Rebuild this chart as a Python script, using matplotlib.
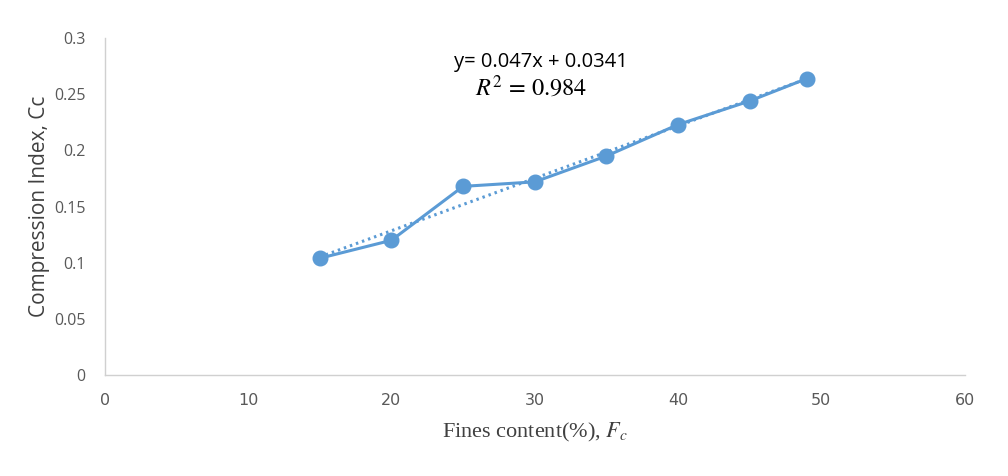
import numpy as np
import matplotlib.pyplot as plt

## data
fines = [15, 20, 25, 30, 35, 40, 45, 49]
cc = [0.104, 0.120, 0.168, 0.172, 0.195, 0.223, 0.244, 0.264]
xticks = [0, 10, 20, 30, 40, 50, 60]
yticks = [0, 0.05, 0.1, 0.15, 0.2, 0.25, 0.3]
ytick_labels = ['0', '0.05', '0.1', '0.15', '0.2', '0.25', '0.3']

blue = '#5B9BD5'
grey = '#595959'

plt.rcParams['mathtext.fontset'] = 'stix'

fig = plt.figure(figsize=(10.08, 4.76), dpi=100)
ax = fig.add_axes([0.104, 0.212, 0.853, 0.708])

# linear trendline
k, b = np.polyfit(fines, cc, 1)
xf = np.array([fines[0], fines[-1]])
ax.plot(xf, k*xf + b, color=blue, linestyle=(0, (0.8, 1.3)), linewidth=2.2)

ax.plot(fines, cc, color=blue, linewidth=2.2, marker='o', markersize=10.5)

ax.set_xlim(0, 60)
ax.set_ylim(0, 0.3)
ax.set_xticks(xticks)
ax.set_yticks(yticks)
ax.set_yticklabels(ytick_labels)
ax.tick_params(length=0, colors=grey, labelsize=11.5)
ax.tick_params(axis='x', pad=13)
ax.tick_params(axis='y', pad=14)
for lab in ax.get_xticklabels():
    lab.set_fontfamily('Liberation Sans Narrow')
for lab in ax.get_yticklabels():
    lab.set_fontfamily('Open Sans')

for s in ['top', 'right']:
    ax.spines[s].set_visible(False)
for s in ['left', 'bottom']:
    ax.spines[s].set_color('#D0D0D0')
    ax.spines[s].set_linewidth(1.0)

ax.set_xlabel(r'Fines content(%), $F_c$', family='Liberation Serif',
              fontsize=16, color='#404040', labelpad=9)
ax.set_ylabel('Compression Index, Cc', family='Open Sans',
              fontsize=15, color='#404040', labelpad=3)

ax.text(24.4, 0.279, 'y= 0.047x + 0.0341', family='Open Sans', fontsize=14.5,
        color='black', va='center', ha='left')
ax.text(25.8, 0.2555, r'$R^2$ = 0.984', family='STIXGeneral', fontsize=17.5,
        color='black', va='center', ha='left')

plt.savefig('out.png', dpi=100)
